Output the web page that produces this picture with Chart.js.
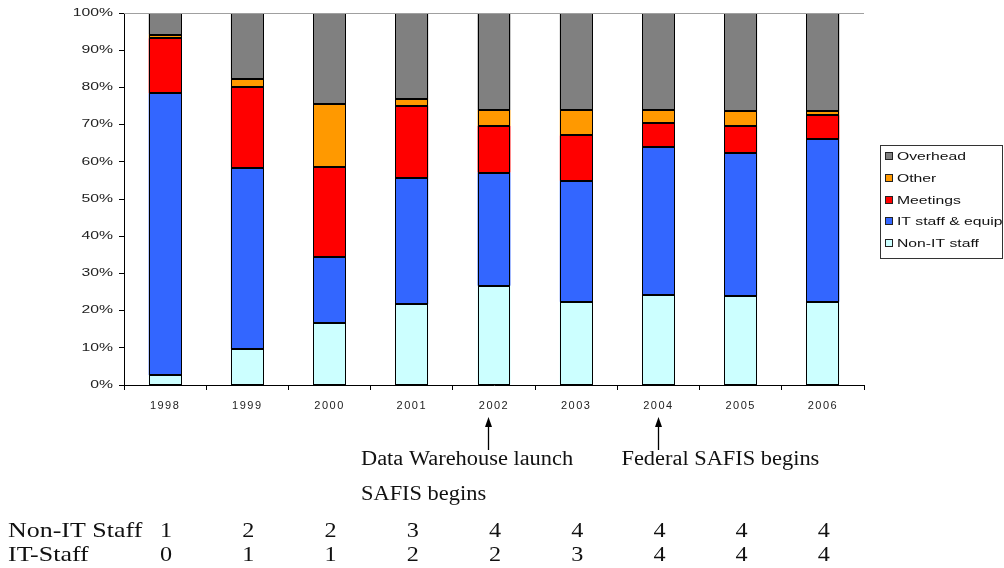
<!DOCTYPE html>
<html>
<head>
<meta charset="utf-8">
<script src="https://cdn.jsdelivr.net/npm/chart.js@4/dist/chart.umd.min.js"></script>
<style>
html,body{margin:0;padding:0;background:#fff;}
#wrap{width:1004px;height:568px;position:relative;}
</style>
</head>
<body>
<div id="wrap"><canvas id="c" width="1004" height="568"></canvas></div>
<script>
const categories = ['1998','1999','2000','2001','2002','2003','2004','2005','2006'];
const nonITStaffPct = [2.7, 9.6, 16.7, 21.8, 26.7, 22.4, 24.2, 23.9, 22.4];
const itStaffEquipPct = [75.7, 48.8, 17.6, 33.9, 30.4, 32.5, 39.7, 38.5, 43.6];
const meetingsPct = [14.8, 21.6, 24.2, 19.2, 12.5, 12.2, 6.4, 7.2, 6.5];
const otherPct = [1.0, 2.2, 17.0, 1.9, 4.3, 6.9, 3.6, 4.0, 1.1];
const overheadPct = [5.8, 17.8, 24.5, 23.2, 26.1, 26.0, 26.1, 26.4, 26.4];
const yTicks = [0,10,20,30,40,50,60,70,80,90,100];
const nonITStaffCount = [1,2,2,3,4,4,4,4,4];
const itStaffCount = [0,1,1,2,2,3,4,4,4];
const tableLabels = ['Non-IT Staff','IT-Staff'];
const events = [
  {year:'2002', lines:['Data Warehouse launch','SAFIS begins']},
  {year:'2004', lines:['Federal SAFIS begins']}
];

const seriesNames = ['Non-IT staff','IT staff & equip','Meetings','Other','Overhead'];
const seriesData = [nonITStaffPct, itStaffEquipPct, meetingsPct, otherPct, overheadPct];
const seriesColors = ['#CCFFFF','#3366FF','#FF0000','#FF9900','#808080'];

const SERIF = '"Liberation Serif","Times New Roman",serif';
const SANS = '"Liberation Sans",Arial,sans-serif';

const extras = {
  id:'extras',
  beforeDraw(chart){
    const ys = chart.scales.y, xs = chart.scales.x;
    if (!ys._stretchPatched) {
      const origY = ys.drawLabels;
      ys.drawLabels = function(area){
        const ctx = this.ctx;
        const ax = this.right - 5 - 6;
        ctx.save();
        ctx.translate(ax, 0); ctx.scale(1.5, 1); ctx.translate(-ax, 0);
        origY.call(this, area);
        ctx.restore();
      };
      ys._stretchPatched = true;
    }
    if (!xs._stretchPatched) {
      const origX = xs.drawLabels;
      xs.drawLabels = function(area){
        const ctx = this.ctx;
        ctx.save();
        ctx.letterSpacing = '1.5px';
        origX.call(this, area);
        ctx.restore();
      };
      xs._stretchPatched = true;
    }
  },
  afterDatasetsDraw(chart){
    const ctx = chart.ctx;
    ctx.save();
    ctx.strokeStyle = '#000';
    ctx.lineWidth = 1;
    chart.data.datasets.forEach((d, di) => {
      const meta = chart.getDatasetMeta(di);
      meta.data.forEach(el => {
        const p = el.getProps(['x','y','base','width'], true);
        const l = Math.round(p.x - p.width / 2) + 0.5;
        const r = Math.round(p.x + p.width / 2) - 0.5;
        const t = Math.round(Math.min(p.y, p.base)) + 0.5;
        const b = Math.round(Math.max(p.y, p.base)) - 0.5;
        ctx.strokeRect(l, t, r - l, b - t);
      });
    });
    ctx.restore();
  },
  afterDraw(chart){
    const ctx = chart.ctx;
    const xs = chart.scales.x;
    const ca = chart.chartArea;
    ctx.save();
    // top border of plot area
    ctx.strokeStyle = '#a0a0a0';
    ctx.lineWidth = 1;
    ctx.beginPath();
    ctx.moveTo(ca.left, ca.top + 0.5);
    ctx.lineTo(ca.right, ca.top + 0.5);
    ctx.stroke();

    // legend
    const lx = 880, ly = 145, lw = 123, lh = 113;
    ctx.strokeStyle = '#333';
    ctx.strokeRect(lx + 0.5, ly + 0.5, lw - 1, lh);
    ctx.textBaseline = 'middle';
    ctx.textAlign = 'left';
    const ds = chart.data.datasets.slice().reverse();
    ds.forEach((d, i) => {
      const y = Math.round(156 + i * 21.8);
      ctx.fillStyle = d.backgroundColor;
      ctx.fillRect(885, y - 4, 8, 8);
      ctx.strokeStyle = '#222';
      ctx.strokeRect(885.5, y - 3.5, 7, 7);
      ctx.save();
      ctx.font = '11px ' + SANS;
      ctx.fillStyle = '#111';
      ctx.translate(897, y + 0.5);
      ctx.scale(1.43, 1);
      ctx.fillText(d.label, 0, 0);
      ctx.restore();
    });

    function serifText(txt, x, y, size, hs, align){
      ctx.save();
      ctx.font = size + 'px ' + SERIF;
      ctx.textBaseline = 'alphabetic';
      ctx.textAlign = align || 'left';
      ctx.translate(x, y);
      ctx.scale(hs, 1);
      ctx.fillStyle = '#111';
      ctx.fillText(txt, 0, 0);
      ctx.restore();
    }
    // event arrows & texts
    const arrowDx = [-6, 0];
    const textDx = [-133, -37];
    events.forEach((ev, k) => {
      const idx = categories.indexOf(ev.year);
      const cx = xs.getPixelForValue(idx);
      const x = Math.round(cx + arrowDx[k]) + 0.5;
      ctx.strokeStyle = '#000';
      ctx.fillStyle = '#000';
      ctx.lineWidth = 1.3;
      ctx.beginPath();
      ctx.moveTo(x, 450);
      ctx.lineTo(x, 424);
      ctx.stroke();
      ctx.beginPath();
      ctx.moveTo(x, 417);
      ctx.lineTo(x - 3.5, 427);
      ctx.lineTo(x + 3.5, 427);
      ctx.closePath();
      ctx.fill();
      ev.lines.forEach((ln, j) => {
        serifText(ln, cx + textDx[k], 465 + j * 35, 20, 1.12);
      });
    });

    // staff table
    serifText(tableLabels[0], 8, 537, 22, 1.18);
    serifText(tableLabels[1], 8, 561, 22, 1.18);
    categories.forEach((c, i) => {
      const x = xs.getPixelForValue(i) + 1;
      serifText(String(nonITStaffCount[i]), x, 537, 22, 1.1, 'center');
      serifText(String(itStaffCount[i]), x, 561, 22, 1.1, 'center');
    });
    ctx.restore();
  }
};

new Chart(document.getElementById('c'), {
  type: 'bar',
  data: {
    labels: categories,
    datasets: seriesNames.map((n, i) => ({
      label: n,
      data: seriesData[i],
      backgroundColor: seriesColors[i],
      borderWidth: 0,
      barPercentage: 0.4,
      categoryPercentage: 1.0
    }))
  },
  options: {
    responsive: false,
    animation: false,
    devicePixelRatio: 1,
    layout: { padding: { left: 0, top: 13, right: 140, bottom: 143 } },
    plugins: { legend: { display: false }, tooltip: { enabled: false } },
    scales: {
      x: {
        stacked: true,
        offset: true,
        afterFit: s => { s.height = 40; },
        grid: { offset: true, drawOnChartArea: false, drawTicks: true, tickLength: 5, color: '#000' },
        border: { color: '#000', width: 1 },
        ticks: { font: { family: SANS, size: 11 }, color: '#222', padding: 9, maxRotation: 0 }
      },
      y: {
        stacked: true,
        min: 0, max: 100,
        afterFit: s => { s.width = 124; },
        afterBuildTicks: s => { s.ticks = yTicks.map(v => ({ value: v })); },
        grid: { drawOnChartArea: false, drawTicks: true, tickLength: 5, color: '#000' },
        border: { color: '#000', width: 1 },
        ticks: { font: { family: SANS, size: 10.5 }, color: '#222', padding: 6, callback: v => v + '%' }
      }
    }
  },
  plugins: [extras]
});
</script>
</body>
</html>
